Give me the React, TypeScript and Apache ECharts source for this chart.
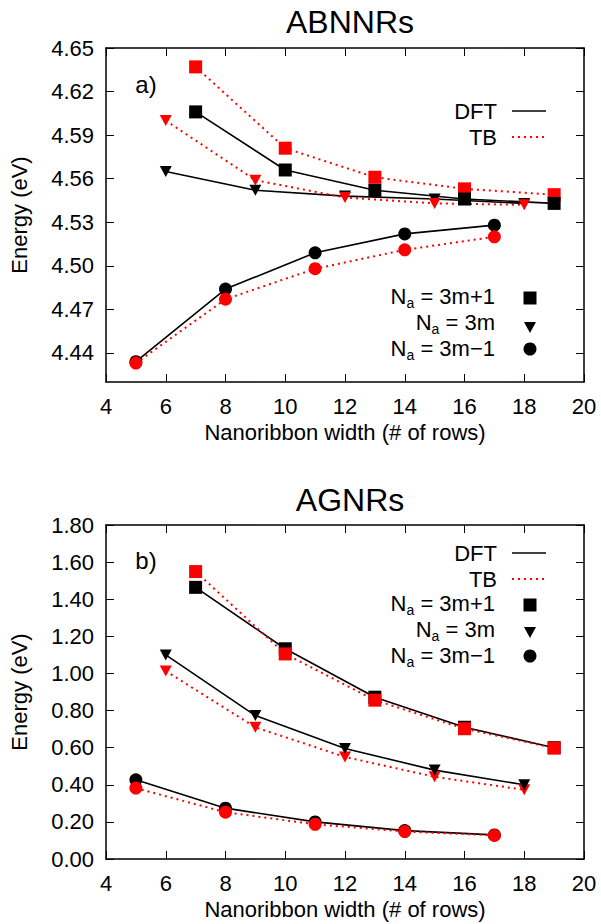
import React, { useEffect, useRef } from "react";
import * as echarts from "echarts";

// ---- data ----
const widthsSq = [7, 10, 13, 16, 19];
const widthsTri = [6, 9, 12, 15, 18];
const widthsCirc = [5, 8, 11, 14, 17];

// ABNNRs (eV)
const abnDftSq = [4.606, 4.566, 4.552, 4.546, 4.543];
const abnTbSq = [4.637, 4.581, 4.561, 4.553, 4.549];
const abnDftTri = [4.565, 4.552, 4.548, 4.546, 4.543];
const abnTbTri = [4.6, 4.559, 4.547, 4.543, 4.542];
const abnDftCirc = [4.434, 4.484, 4.509, 4.522, 4.528];
const abnTbCirc = [4.433, 4.477, 4.498, 4.511, 4.52];

// AGNRs (eV)
const agDftSq = [1.464, 1.133, 0.872, 0.71, 0.6];
const agTbSq = [1.549, 1.105, 0.856, 0.702, 0.598];
const agDftTri = [1.1, 0.773, 0.596, 0.479, 0.4];
const agTbTri = [1.013, 0.71, 0.55, 0.443, 0.373];
const agDftCirc = [0.427, 0.274, 0.2, 0.153, 0.13];
const agTbCirc = [0.382, 0.252, 0.187, 0.148, 0.127];

const yTicksTop = [4.44, 4.47, 4.5, 4.53, 4.56, 4.59, 4.62, 4.65];
const yTicksBottom = [0, 0.2, 0.4, 0.6, 0.8, 1.0, 1.2, 1.4, 1.6, 1.8];

const FONT = '"Liberation Sans", Arial, Helvetica, sans-serif';
const RED = "#ff0000";

function measure(text: string, size: number): number {
  const c = document.createElement("canvas").getContext("2d");
  if (!c) return text.length * size * 0.55;
  c.font = `${size}px ${FONT}`;
  return c.measureText(text).width;
}

export default function App() {
  const ref = useRef<HTMLDivElement>(null);
  useEffect(() => {
    document.body.style.margin = "0";
    if (!ref.current) return;
    const chart = echarts.init(ref.current, null, { renderer: "svg" });

    const gridLeft = 106;
    const gridRight = 17;
    const plotRight = 601 - gridRight;
    const centerX = (gridLeft + plotRight) / 2;
    const topGridTop = 48;
    const botGridTop = 525;
    const gridH = 334;

    const tick = { show: true, inside: true, length: 8, lineStyle: { color: "#000", width: 1 } };
    const line = { show: true, onZero: false, lineStyle: { color: "#000", width: 1.5 } };

    const xMain = (gi: number) => ({
      type: "value",
      gridIndex: gi,
      min: 4,
      max: 20,
      interval: 2,
      position: "bottom",
      axisLine: line,
      axisTick: tick,
      splitLine: { show: false },
      axisLabel: { color: "#000", fontSize: 22, fontFamily: FONT, margin: 13 },
      name: "Nanoribbon width (# of rows)",
      nameLocation: "middle",
      nameGap: 39,
      nameTextStyle: { color: "#000", fontSize: 22, fontFamily: FONT },
    });
    const xMirror = (gi: number) => ({
      type: "value",
      gridIndex: gi,
      min: 4,
      max: 20,
      interval: 2,
      position: "top",
      axisLine: line,
      axisTick: tick,
      splitLine: { show: false },
      axisLabel: { show: false },
    });
    const yMain = (gi: number, min: number, max: number, ticks: number[]) => ({
      type: "value",
      gridIndex: gi,
      min,
      max,
      position: "left",
      axisLine: line,
      axisTick: { ...tick, customValues: ticks },
      splitLine: { show: false },
      axisLabel: {
        color: "#000",
        fontSize: 22,
        fontFamily: FONT,
        margin: 12,
        customValues: ticks,
        formatter: (v: number) => v.toFixed(2),
      },
      name: "Energy (eV)",
      nameLocation: "middle",
      nameRotate: 90,
      nameGap: 76,
      nameTextStyle: { color: "#000", fontSize: 22, fontFamily: FONT },
    });
    const yMirror = (gi: number, min: number, max: number, ticks: number[]) => ({
      type: "value",
      gridIndex: gi,
      min,
      max,
      position: "right",
      axisLine: line,
      axisTick: { ...tick, customValues: ticks },
      splitLine: { show: false },
      axisLabel: { show: false, customValues: ticks },
    });

    const mk = (
      axis: number,
      xs: number[],
      ys: number[],
      kind: "dft" | "tb",
      sym: "rect" | "tri" | "circ"
    ) => {
      const color = kind === "dft" ? "#000" : RED;
      return {
        type: "line",
        name: kind === "dft" ? "DFT" : "TB",
        xAxisIndex: axis * 2,
        yAxisIndex: axis * 2,
        data: xs.map((x, i) => [x, ys[i]]),
        symbol: sym === "rect" ? "rect" : sym === "tri" ? "triangle" : "circle",
        symbolRotate: sym === "tri" ? 180 : 0,
        symbolSize: sym === "rect" ? 13 : sym === "tri" ? [12, 11] : 13,
        showSymbol: true,
        itemStyle: { color },
        lineStyle: {
          color,
          width: kind === "dft" ? 1.6 : 2,
          type: kind === "dft" ? "solid" : [2, 4],
          cap: "butt",
        },
        emphasis: { disabled: true },
      };
    };

    const series = [
      mk(0, widthsSq, abnTbSq, "tb", "rect"),
      mk(0, widthsSq, abnDftSq, "dft", "rect"),
      mk(0, widthsTri, abnDftTri, "dft", "tri"),
      mk(0, widthsTri, abnTbTri, "tb", "tri"),
      mk(0, widthsCirc, abnDftCirc, "dft", "circ"),
      mk(0, widthsCirc, abnTbCirc, "tb", "circ"),
      mk(1, widthsSq, agDftSq, "dft", "rect"),
      mk(1, widthsSq, agTbSq, "tb", "rect"),
      mk(1, widthsTri, agTbTri, "tb", "tri"),
      mk(1, widthsTri, agDftTri, "dft", "tri"),
      mk(1, widthsCirc, agDftCirc, "dft", "circ"),
      mk(1, widthsCirc, agTbCirc, "tb", "circ"),
    ];

    // ---- legend drawn as graphics ----
    const txt = (text: string, x: number, y: number, size: number, align: string) => ({
      type: "text",
      silent: true,
      style: {
        text,
        x,
        y,
        fill: "#000",
        fontSize: size,
        fontFamily: FONT,
        align,
        verticalAlign: "middle",
        textAlign: align,
        textVerticalAlign: "middle",
      },
    });
    const naLabel = (rightX: number, y: number, rest: string) => {
      const restW = measure(rest, 22);
      const aW = measure("a", 14);
      return [
        txt(rest, rightX, y, 22, "right"),
        txt("a", rightX - restW, y + 7, 14, "right"),
        txt("N", rightX - restW - aW, y, 22, "right"),
      ];
    };
    const legend = (yDft: number, yTb: number, yRows: number[], triOff: number) => {
      const tx = 497;
      const sx0 = 512;
      const sx1 = 546;
      const mx = 530;
      return [
        txt("DFT", tx, yDft, 22, "right"),
        {
          type: "line",
          silent: true,
          shape: { x1: sx0, y1: yDft, x2: sx1, y2: yDft },
          style: { stroke: "#000", lineWidth: 1.6 },
        },
        txt("TB", tx, yTb, 22, "right"),
        {
          type: "line",
          silent: true,
          shape: { x1: sx0, y1: yTb, x2: sx1, y2: yTb },
          style: { stroke: RED, lineWidth: 2, lineDash: [2, 4] },
        },
        ...naLabel(495, yRows[0], " = 3m+1"),
        ...naLabel(495, yRows[1], " = 3m"),
        ...naLabel(495, yRows[2], " = 3m\u22121"),
        {
          type: "rect",
          silent: true,
          shape: { x: mx - 6.5, y: yRows[0] + 2 - 6.5, width: 13, height: 13 },
          style: { fill: "#000" },
        },
        {
          type: "polygon",
          silent: true,
          shape: {
            points: [
              [mx - 6, yRows[1] + triOff - 5],
              [mx + 6, yRows[1] + triOff - 5],
              [mx, yRows[1] + triOff + 6],
            ],
          },
          style: { fill: "#000" },
        },
        {
          type: "circle",
          silent: true,
          shape: { cx: mx, cy: yRows[2] + 1, r: 6.5 },
          style: { fill: "#000" },
        },
      ];
    };

    const graphic = [
      txt("a)", 146, 84, 24, "center"),
      txt("b)", 146, 560, 24, "center"),
      ...legend(111, 137, [296, 322, 348], 5),
      ...legend(553, 579, [603, 629, 655], 3),
    ];

    chart.setOption({
      animation: false,
      backgroundColor: "#fff",
      textStyle: { fontFamily: FONT },
      title: [
        {
          text: "ABNNRs",
          left: centerX,
          top: 1,
          textAlign: "center",
          textStyle: { fontSize: 32, fontWeight: "normal", color: "#000", fontFamily: FONT },
        },
        {
          text: "AGNRs",
          left: centerX,
          top: 479,
          textAlign: "center",
          textStyle: { fontSize: 32, fontWeight: "normal", color: "#000", fontFamily: FONT },
        },
      ],
      grid: [
        { left: gridLeft, right: gridRight, top: topGridTop, height: gridH },
        { left: gridLeft, right: gridRight, top: botGridTop, height: gridH },
      ],
      xAxis: [xMain(0), xMirror(0), xMain(1), xMirror(1)],
      yAxis: [
        yMain(0, 4.42, 4.65, yTicksTop),
        yMirror(0, 4.42, 4.65, yTicksTop),
        yMain(1, 0, 1.8, yTicksBottom),
        yMirror(1, 0, 1.8, yTicksBottom),
      ],
      series,
      graphic,
    });
    return () => chart.dispose();
  }, []);
  return <div ref={ref} style={{ width: 601, height: 924 }} />;
}
